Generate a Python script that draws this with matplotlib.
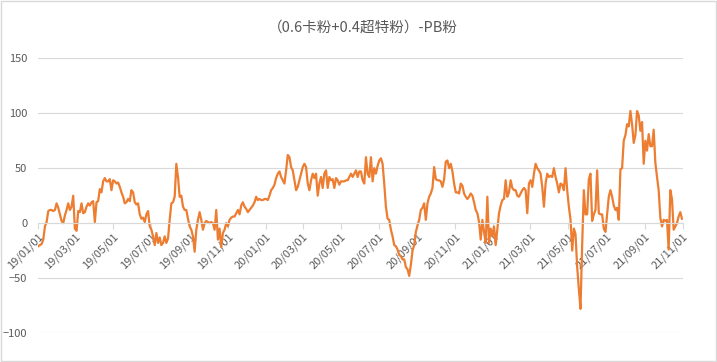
import numpy as np
import pandas as pd
import matplotlib
matplotlib.use("Agg")
import matplotlib.pyplot as plt
import matplotlib.dates as mdates
from matplotlib.patches import Rectangle

plt.rcParams['font.family'] = ['Noto Sans CJK SC', 'DejaVu Sans']

title = '（0.6卡粉+0.4超特粉）-PB粉'
start, end = '2019-01-01', '2021-10-31'

spread_2019_2020 = [
    -21, -20, -19, -15, -3, 1, 11, 12, 12, 11, 12, 18, 14, 8, 2, 0, 7, 12, 18, 12,
    15, 25, -5, -7, 11, 10, 18, 9, 10, 15, 18, 16, 19, 20, 1, 19, 20, 31, 28, 38,
    41, 38, 38, 40, 30, 39, 38, 36, 37, 33, 28, 24, 18, 19, 22, 20, 30, 28, 19, 17,
    18, 8, 4, 5, 1, 8, 11, -3, -6, -12, -20, -9, -18, -13, -20, -18, -12, -18, -14, 3,
    18, 19, 24, 54, 42, 24, 25, 15, 12, 12, 4, -3, -6, -12, -26, -6, 3, 10, 3, -6,
    0, 2, 1, 0, 1, 0, -6, 12, -15, -5, -22, -9, -6, 0, -3, 3, 5, 6, 6, 9,
    12, 8, 16, 19, 15, 13, 10, 12, 14, 16, 19, 24, 21, 22, 21, 21, 22, 22, 21, 25,
    30, 32, 35, 41, 45, 47, 42, 39, 36, 48, 62, 60, 51, 48, 39, 30, 33, 39, 45, 51,
    54, 51, 36, 30, 39, 45, 41, 45, 25, 36, 42, 32, 45, 48, 32, 42, 39, 40, 32, 41,
    39, 35, 38, 38, 38, 39, 39, 42, 45, 42, 45, 48, 42, 47,
]
spread_2020_2021 = [
    47, 39, 36, 60, 45, 42, 60, 38, 50, 45, 52, 57, 59, 54, 36, 15, 4, 3, -6, -12,
    -20, -21, -24, -29, -30, -33, -33, -40, -42, -48, -38, -25, -20, -8, -2, 3, 12, 14, 18, 3,
    18, 24, 27, 32, 51, 40, 39, 39, 38, 33, 40, 56, 57, 50, 54, 47, 36, 28, 28, 27,
    36, 34, 27, 24, 22, 24, 27, 25, 19, 12, 9, 1, -15, 3, -8, -18, 24, -18, -5, -12,
    -3, -20, -5, 9, 16, 21, 22, 39, 24, 28, 39, 32, 30, 30, 25, 24, 27, 30, 32, 30,
    9, 36, 39, 33, 45, 54, 50, 48, 45, 33, 15, 36, 45, 42, 43, 42, 50, 42, 36, 28,
    36, 35, 30, 50, 30, 15, 3, -25, -5, -10, -40, -60, -78, -20, 30, 8, 8, 40, 45, 2,
    8, 12, 48, 9, 8, 8, -5, -8, 8, 24, 30, 24, 16, 12, 14, 3, 49, 50, 75, 80,
    90, 88, 102, 90, 73, 80, 102, 98, 84, 92, 54, 75, 66, 81, 70, 70, 85, 55, 42, 30,
    5, -3, 3, 2, 3, -24, 30, 22, -6, -3, 0, 6, 10, 4,
]

values = spread_2019_2020 + spread_2020_2021
t0, t1 = pd.Timestamp(start), pd.Timestamp(end)
dates = pd.to_datetime(np.linspace(t0.value, t1.value, len(values)))

fig = plt.figure(figsize=(7.17, 3.62), dpi=100)
ax = fig.add_axes([0.0534, 0.080, 0.8986, 0.759])

ax.plot(dates, values, color='#ED7D31', lw=1.6)

ax.set_ylim(-100, 150)
ax.set_yticks([-100, -50, 0, 50, 100, 150])
ax.set_xlim(pd.Timestamp('2019-01-01'), pd.Timestamp('2021-11-01'))
ax.xaxis.set_major_locator(mdates.MonthLocator(bymonth=[1, 3, 5, 7, 9, 11]))
ax.xaxis.set_major_formatter(mdates.DateFormatter('%y/%m/%d'))

ax.grid(axis='y', color='#d9d9d9', lw=0.8)
ax.set_axisbelow(True)
for s in ['top', 'right', 'left']:
    ax.spines[s].set_visible(False)
ax.spines['bottom'].set_position(('data', 0))
ax.spines['bottom'].set_color('#d9d9d9')
ax.spines['bottom'].set_linewidth(0.8)

ax.tick_params(axis='y', length=0, pad=8, labelsize=8, labelcolor='#595959')
ax.tick_params(axis='x', length=4, color='#d9d9d9', width=0.8, labelsize=8,
               labelcolor='#595959', pad=2)
for lab in ax.get_xticklabels():
    lab.set_rotation(45)
    lab.set_ha('right')
    lab.set_va('top')
    lab.set_rotation_mode('anchor')

fig.text(0.506, 0.925, title, ha='center', va='center', fontsize=10.5, color='#595959')
fig.patches.append(Rectangle((0.001, 0.002), 0.997, 0.995, transform=fig.transFigure,
                             fill=False, edgecolor='#d9d9d9', lw=1))

fig.savefig('out.png', dpi=100)
